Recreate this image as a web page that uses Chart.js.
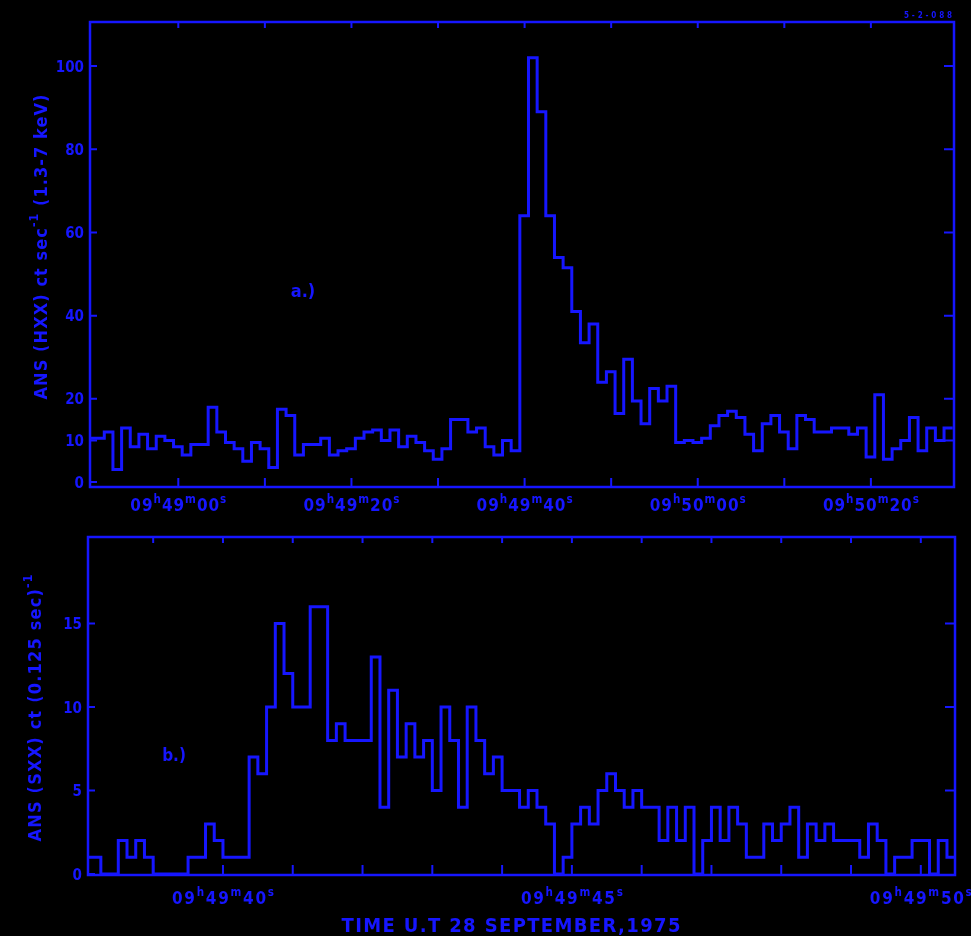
<!DOCTYPE html>
<html><head><meta charset="utf-8">
<script src="https://cdn.jsdelivr.net/npm/chart.js@4.4.1/dist/chart.umd.min.js"></script>
<style>
html,body{margin:0;padding:0;background:#000;width:971px;height:936px;overflow:hidden}
canvas{position:absolute;left:0;top:0}
</style></head><body>
<canvas id="panelA" width="971" height="936"></canvas>
<canvas id="panelB" width="971" height="936"></canvas>
<script>
// ---------- Panel a) ANS HXX, 1 s bins, time in s after 09:49:00 ----------
const hxxBinStart = -10.55;
const hxxBinWidth = 1;
const hxxRates = [
  10.5, 10.5, 12, 3, 13, 8.5, 11.5, 8, 11, 10,
  8.5, 6.5, 9, 9, 18, 12, 9.5, 8, 5, 9.5,
  8, 3.5, 17.5, 16, 6.5, 9, 9, 10.5, 6.5, 7.5,
  8, 10.5, 12, 12.5, 10, 12.5, 8.5, 11, 9.5, 7.5,
  5.5, 8, 15, 15, 12, 13, 8.5, 6.5, 10, 7.5,
  64, 102, 89, 64, 54, 51.5, 41, 33.5, 38, 24,
  26.5, 16.5, 29.5, 19.5, 14, 22.5, 19.5, 23, 9.5, 10,
  9.5, 10.5, 13.5, 16, 17, 15.5, 11.5, 7.5, 14, 16,
  12, 8, 16, 15, 12, 12, 13, 13, 11.5, 13,
  6, 21, 5.5, 8, 10, 15.5, 7.5, 13, 10, 13
];
const hxxTickSeconds = [0, 10, 20, 30, 40, 50, 60, 70, 80];
const hxxTickLabels = [
  {at: 0,  text: '09{h}49{m}00{s}'},
  {at: 20, text: '09{h}49{m}20{s}'},
  {at: 40, text: '09{h}49{m}40{s}'},
  {at: 60, text: '09{h}50{m}00{s}'},
  {at: 80, text: '09{h}50{m}20{s}'}
];
const hxxYTicks = [0, 10, 20, 40, 60, 80, 100];

// ---------- Panel b) ANS SXX, 0.125 s bins, time in s after 09:49:40 ----------
const sxxBinStart = -2.0;
const sxxBinWidth = 0.125;
const sxxCounts = [
  1, 1, 0, 0, 2, 1, 2, 1, 0, 0,
  0, 0, 1, 1, 3, 2, 1, 1, 1, 7,
  6, 10, 15, 12, 10, 10, 16, 16, 8, 9,
  8, 8, 8, 13, 4, 11, 7, 9, 7, 8,
  5, 10, 8, 4, 10, 8, 6, 7, 5, 5,
  4, 5, 4, 3, 0, 1, 3, 4, 3, 5,
  6, 5, 4, 5, 4, 4, 2, 4, 2, 4,
  0, 2, 4, 2, 4, 3, 1, 1, 3, 2,
  3, 4, 1, 3, 2, 3, 2, 2, 2, 1,
  3, 2, 0, 1, 1, 2, 2, 0, 2, 1
];
const sxxTickSeconds = [-1, 0, 1, 2, 3, 4, 5, 6, 7, 8, 9, 10];
const sxxTickLabels = [
  {at: 0,  text: '09{h}49{m}40{s}'},
  {at: 5,  text: '09{h}49{m}45{s}'},
  {at: 10, text: '09{h}49{m}50{s}'}
];
const sxxYTicks = [0, 5, 10, 15];

// ---------- drawing helpers ----------
const BLUE = '#1616ff';
const FAMILY = '"DejaVu Sans Condensed", "DejaVu Sans", sans-serif';

function richParts(str) {
  const parts = [];
  const re = /\{([^}]*)\}|([^{]+)/g;
  let m;
  while ((m = re.exec(str))) {
    if (m[1] !== undefined) parts.push({t: m[1], sup: true});
    else parts.push({t: m[2], sup: false});
  }
  return parts;
}
function drawRich(ctx, str, x, y, size, align, targetWidth, weight) {
  const parts = richParts(str);
  const w8 = weight || 'bold';
  let natural = 0, nChars = 0;
  if ('letterSpacing' in ctx) ctx.letterSpacing = '0px';
  parts.forEach(p => {
    p.size = p.sup ? size * 0.68 : size;
    ctx.font = w8 + ' ' + p.size + 'px ' + FAMILY;
    p.w = ctx.measureText(p.t).width;
    natural += p.w; nChars += p.t.length;
  });
  let sp = 0;
  if (targetWidth && nChars > 1) sp = (targetWidth - natural) / (nChars - 1);
  const total = natural + sp * (nChars - 1);
  let cx = align === 'center' ? x - total / 2 : align === 'right' ? x - total : x;
  ctx.textAlign = 'left';
  ctx.textBaseline = 'alphabetic';
  parts.forEach(p => {
    ctx.font = w8 + ' ' + p.size + 'px ' + FAMILY;
    if ('letterSpacing' in ctx) ctx.letterSpacing = sp + 'px';
    ctx.fillText(p.t, cx, p.sup ? y - size * 0.5 : y);
    cx += p.w + sp * p.t.length;
  });
  if ('letterSpacing' in ctx) ctx.letterSpacing = '0px';
}

const framePlugin = {
  id: 'frame',
  afterDraw(chart, args, o) {
    const {ctx, chartArea: a} = chart;
    const x = chart.scales.x, y = chart.scales.y;
    ctx.save();
    ctx.strokeStyle = BLUE; ctx.fillStyle = BLUE;
    ctx.lineWidth = 2.5;
    ctx.strokeRect(a.left, a.top, a.right - a.left, a.bottom - a.top);
    ctx.lineWidth = 2;
    ctx.beginPath();
    o.xTicks.forEach(t => {
      const px = x.getPixelForValue(t);
      ctx.moveTo(px, a.bottom); ctx.lineTo(px, a.bottom - o.bottomTick);
      ctx.moveTo(px, a.top); ctx.lineTo(px, a.top + o.topTick);
    });
    o.yTicks.forEach(v => {
      const py = y.getPixelForValue(v);
      ctx.moveTo(a.left, py); ctx.lineTo(a.left + o.leftTick, py);
      if (v > 0) { ctx.moveTo(a.right, py); ctx.lineTo(a.right - o.rightTick, py); }
    });
    ctx.stroke();
    o.yTicks.forEach(v => {
      drawRich(ctx, String(v), a.left - o.yGap, y.getPixelForValue(v) + o.ySize * 0.37, o.ySize, 'right');
    });
    o.xLabels.forEach(l => {
      drawRich(ctx, l.text, x.getPixelForValue(l.at), o.xLabelY, o.xSize, 'center', o.xLabelWidth);
    });
    // rotated y title
    ctx.save();
    ctx.translate(o.yTitle.x, o.yTitle.y);
    ctx.rotate(-Math.PI / 2);
    drawRich(ctx, o.yTitle.text, 0, o.yTitle.size * 0.36, o.yTitle.size, 'center', o.yTitle.width);
    ctx.restore();
    (o.texts || []).forEach(t => drawRich(ctx, t.text, t.x, t.y, t.size, 'center', t.width, t.weight));
    ctx.restore();
  }
};

function histPoints(start, width, values) {
  const pts = values.map((v, i) => ({x: start + i * width, y: v}));
  pts.push({x: start + values.length * width, y: values[values.length - 1]});
  return pts;
}

function makePanel(id, pts, padding, xr, yr, frame) {
  return new Chart(document.getElementById(id), {
    type: 'line',
    data: {datasets: [{
      data: pts, stepped: 'before', borderColor: BLUE, borderWidth: 3,
      pointRadius: 0, fill: false, borderJoinStyle: 'miter', borderCapStyle: 'butt'
    }]},
    options: {
      responsive: false, animation: false, events: [],
      layout: {padding},
      plugins: {legend: {display: false}, tooltip: {enabled: false}, frame},
      scales: {
        x: {type: 'linear', display: false, min: xr[0], max: xr[1]},
        y: {type: 'linear', display: false, min: yr[0], max: yr[1]}
      }
    },
    plugins: [framePlugin]
  });
}

makePanel('panelA', histPoints(hxxBinStart, hxxBinWidth, hxxRates),
  {left: 90, top: 22, right: 17, bottom: 449}, [-10.2, 89.6], [-1.2, 110.6],
  {
    xTicks: hxxTickSeconds, yTicks: hxxYTicks,
    bottomTick: 9, topTick: 6, leftTick: 7, rightTick: 10,
    ySize: 15, yGap: 6, xSize: 17, xLabelY: 511, xLabelWidth: 96, xLabels: hxxTickLabels,
    yTitle: {text: 'ANS (HXX) ct sec{-1} (1.3-7 keV)', x: 41, y: 247, size: 18, width: 305},
    texts: [
      {text: 'a.)', x: 303, y: 297, size: 18},
      {text: '5-2-088', x: 928, y: 18, size: 8, width: 48}
    ]
  });

makePanel('panelB', histPoints(sxxBinStart, sxxBinWidth, sxxCounts),
  {left: 88, top: 537, right: 16, bottom: 61}, [-1.934, 10.49], [-0.06, 20.18],
  {
    xTicks: sxxTickSeconds, yTicks: sxxYTicks,
    bottomTick: 10, topTick: 6, leftTick: 7, rightTick: 10,
    ySize: 15, yGap: 6, xSize: 17, xLabelY: 904, xLabelWidth: 102, xLabels: sxxTickLabels,
    yTitle: {text: 'ANS (SXX) ct (0.125 sec){-1}', x: 35, y: 708, size: 18, width: 267},
    texts: [
      {text: 'b.)', x: 174, y: 761, size: 17},
      {text: 'TIME U.T 28 SEPTEMBER,1975', x: 511, y: 932, size: 20, width: 339, weight: 'bold'}
    ]
  });
</script>
</body></html>
